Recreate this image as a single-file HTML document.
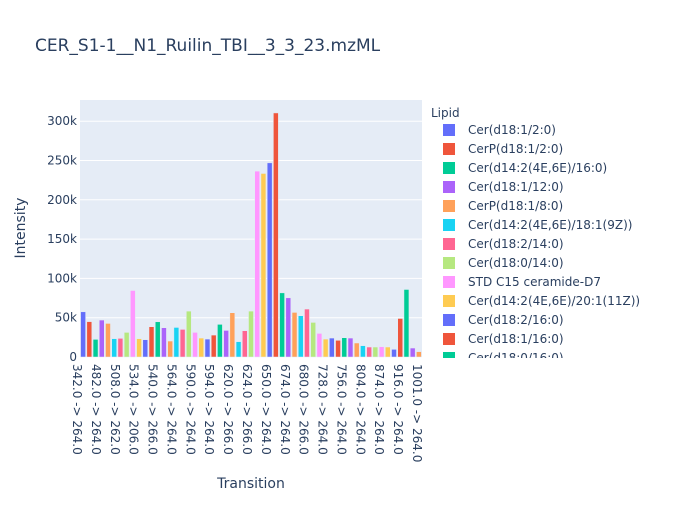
<!DOCTYPE html>
<html><head><meta charset="utf-8"><style>
body{margin:0;background:#fff;}
svg text{font-family:"DejaVu Sans","Liberation Sans",sans-serif;fill:#2a3f5f;}
</style></head><body>
<svg id="chart" width="700" height="500" xmlns="http://www.w3.org/2000/svg">
<rect width="700" height="500" fill="#fff"/>
<text x="35" y="51" font-size="17">CER_S1-1__N1_Ruilin_TBI__3_3_23.mzML</text>
<rect x="80" y="100" width="342" height="257" fill="#e5ecf6"/>
<g id="grid"></g><g id="bars"></g><g id="yticks"></g><g id="xticks"></g>
<text transform="translate(25,228) rotate(-90)" text-anchor="middle" font-size="14">Intensity</text>
<text x="251" y="488" text-anchor="middle" font-size="14">Transition</text>
<text x="431" y="117" font-size="12">Lipid</text>
<defs><clipPath id="lc"><rect x="425" y="100" width="275" height="258"/></clipPath></defs>
<g id="legend" clip-path="url(#lc)"></g>
</svg>
<script>
const values=[57.5,45,22.4,47,42.7,23.3,23.7,31.3,84.6,23.3,22,38.5,44.8,37.2,20.3,37.6,35.1,58.4,31.3,24.1,22.8,27.9,41.5,33.8,56.3,19.5,33.4,58.4,236.5,233.5,247,310.5,81.6,75.3,56.7,52.5,61,44,30,22.8,24.1,21.2,24.5,24.1,17.8,14.4,12.7,12.7,13.1,12.7,9.7,49,85.9,11.4,6.8];
const yTicks=[0,50,100,150,200,250,300];
const xTickLabels=["342.0 -> 264.0","482.0 -> 264.0","508.0 -> 262.0","534.0 -> 206.0","540.0 -> 266.0","564.0 -> 264.0","590.0 -> 264.0","594.0 -> 264.0","620.0 -> 266.0","624.0 -> 266.0","650.0 -> 264.0","674.0 -> 264.0","680.0 -> 266.0","728.0 -> 264.0","756.0 -> 264.0","804.0 -> 264.0","874.0 -> 264.0","916.0 -> 264.0","1001.0 -> 264.0"];
const legendNames=["Cer(d18:1/2:0)","CerP(d18:1/2:0)","Cer(d14:2(4E,6E)/16:0)","Cer(d18:1/12:0)","CerP(d18:1/8:0)","Cer(d14:2(4E,6E)/18:1(9Z))","Cer(d18:2/14:0)","Cer(d18:0/14:0)","STD C15 ceramide-D7","Cer(d14:2(4E,6E)/20:1(11Z))","Cer(d18:2/16:0)","Cer(d18:1/16:0)","Cer(d18:0/16:0)"];
const colors=["#636efa","#EF553B","#00cc96","#ab63fa","#FFA15A","#19d3f3","#FF6692","#B6E880","#FF97FF","#FECB52"];
const NS="http://www.w3.org/2000/svg";
const X0=80,X1=422,Y0=357,PX=39.3/50;
const y=v=>Y0-v*PX;
const step=(X1-X0)/values.length;
const xc=i=>X0+(i+0.5)*step;
function mk(t,a,p){const e=document.createElementNS(NS,t);for(const k in a)e.setAttribute(k,a[k]);p.appendChild(e);return e;}
const grid=document.getElementById('grid'),yt=document.getElementById('yticks');
yTicks.forEach(v=>{
 if(v>0){const l=mk('line',{x1:X0,x2:X1,y1:y(v),y2:y(v),stroke:'#fff','stroke-width':1},grid);
 
 }
 const t=mk('text',{x:77,y:y(v)+4,'text-anchor':'end','font-size':12},yt);t.textContent=v===0?'0':v+'k';
 
 
});
const bars=document.getElementById('bars');
values.forEach((v,i)=>{
 const r=mk('rect',{x:xc(i)-step*0.4,y:y(v),width:step*0.8,height:v*PX,fill:colors[i%10],stroke:'#e5ecf6','stroke-width':0.5},bars);
 
 
});
const xt=document.getElementById('xticks');
const n=xTickLabels.length;
xTickLabels.forEach((s,i)=>{
 const px=77+(417-77)*i/(n-1)-4;
 const t=mk('text',{transform:`translate(${px},364) rotate(90)`,'font-size':12},xt);t.textContent=s;
 
 
});
const lg=document.getElementById('legend');
legendNames.forEach((s,i)=>{
 const cy=130+i*19;
 const g=mk('g',{},lg);
 
 
 mk('rect',{x:443,y:cy-6,width:12,height:12,fill:colors[i%10]},g);
 const t=mk('text',{x:468,y:cy+4,'font-size':12},g);t.textContent=s;
});
</script>
</body></html>
